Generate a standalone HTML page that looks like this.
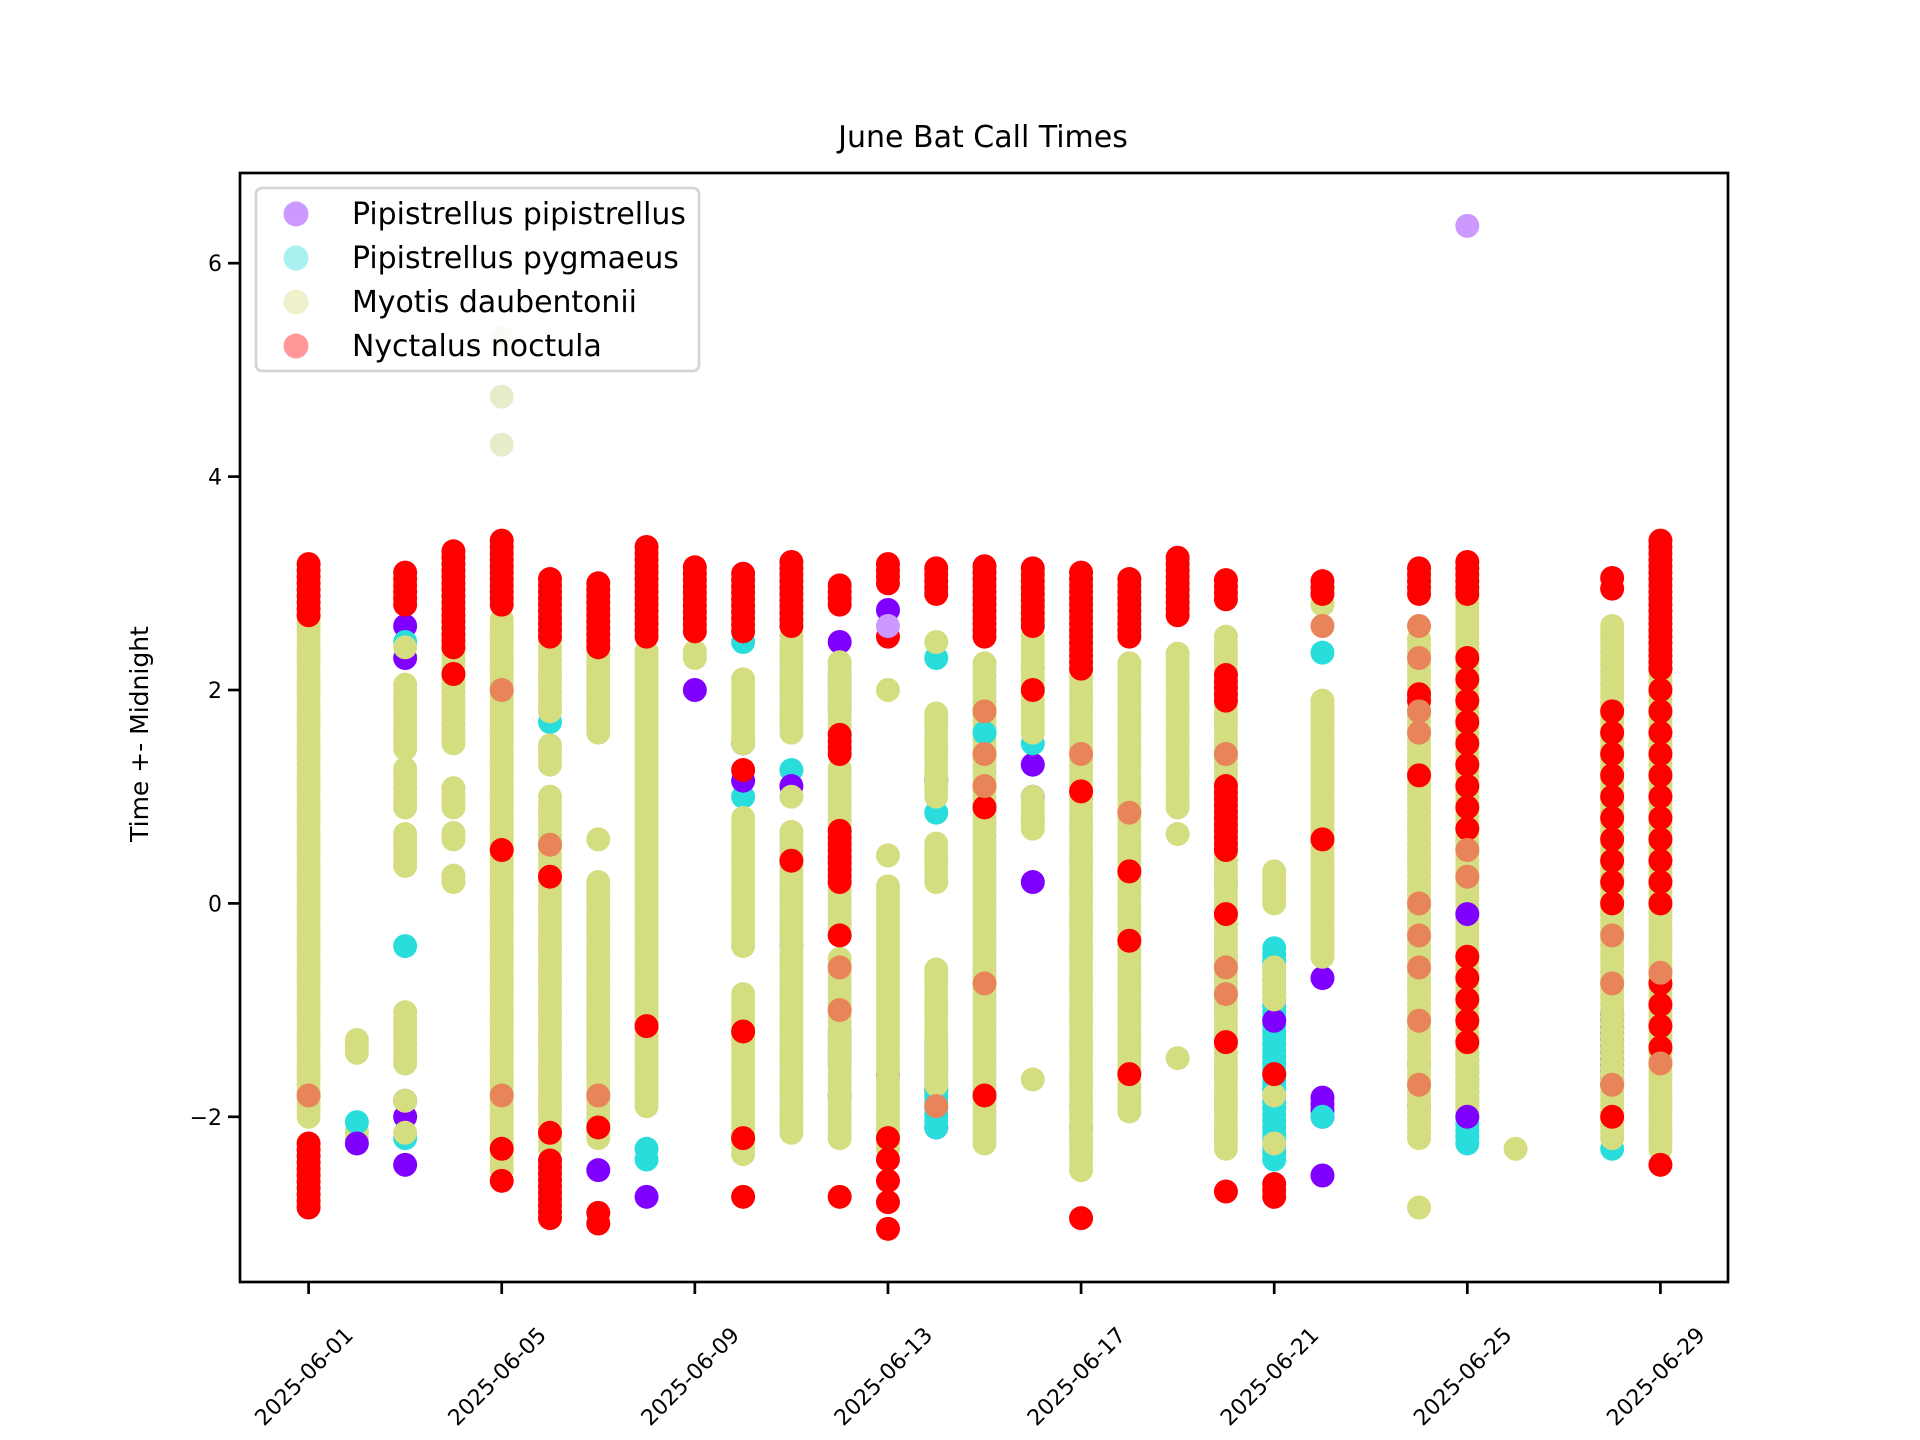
<!DOCTYPE html>
<html><head><meta charset="utf-8">
<style>
html,body{margin:0;padding:0;background:#fff;}
svg{display:block;font-family:"DejaVu Sans","Liberation Sans",sans-serif;}
</style></head>
<body>
<svg id="s" width="1920" height="1440" viewBox="0 0 1920 1440" xmlns="http://www.w3.org/2000/svg">
<rect width="1920" height="1440" fill="#fff"/>
<g id="pts"></g>
<rect x="240" y="173" width="1488" height="1109" fill="none" stroke="#000" stroke-width="2.7"/>
<g id="ax" stroke="#000" stroke-width="2.7"></g>
<g id="lab" font-size="22" fill="#000"></g>
<text x="983" y="147" font-size="30" text-anchor="middle">June Bat Call Times</text>
<text transform="translate(148,734) rotate(-90)" font-size="25" text-anchor="middle">Time +- Midnight</text>
<rect x="256" y="188" width="443" height="183" rx="6" fill="#fff" fill-opacity="0.8" stroke="#d5d5d5" stroke-width="2.7"/>
<circle cx="296" cy="214" r="12.5" fill="#8000ff" fill-opacity="0.4"/>
<circle cx="296" cy="258" r="12.5" fill="#2adddd" fill-opacity="0.4"/>
<circle cx="296" cy="302" r="12.5" fill="#d4dd80" fill-opacity="0.4"/>
<circle cx="296" cy="346" r="12.5" fill="#ff0000" fill-opacity="0.4"/>
<g font-size="29.9" fill="#000">
<text x="352" y="224">Pipistrellus pipistrellus</text>
<text x="352" y="268">Pipistrellus pygmaeus</text>
<text x="352" y="312">Myotis daubentonii</text>
<text x="352" y="356">Nyctalus noctula</text>
</g>
</svg>
<script>
const NS="http://www.w3.org/2000/svg";
const X=d=>308.6+(d-1)*48.28, Y=v=>903.4-v*106.7;
const g=document.getElementById('pts');
const C={p:"#8000ff",c:"#2adddd",m:"#d4dd80",r:"#ff0000",o:"#e8845a",l:"#e9eccb",q:"#cc99ff",s:"#ff0000"};
function dot(d,v,col){const c=document.createElementNS(NS,'circle');c.setAttribute('cx',X(d));c.setAttribute('cy',Y(v));c.setAttribute('r',12);c.setAttribute('fill',C[col]);g.appendChild(c);}
function rng(d,a,b,col){const st=col==='s'?0.2:0.06;for(let v=a;v<=b+1e-6;v+=st)dot(d,v,col);}
const data=[
[1,'m',[[-2.0,2.7]]],[1,'r',[[2.7,3.2],[-2.85,-2.2]]],[1,'o',[-1.8]],
[2,'m',[[-1.4,-1.25],[-2.2,-2.1]]],[2,'c',[-2.05]],[2,'p',[-2.25]],
[3,'p',[2.6,2.3,-1.85,-2.0,-2.45]],[3,'c',[-0.4,2.45,-2.2]],[3,'m',[[0.35,0.7],[0.9,1.3],[1.45,2.05],2.4,[-1.5,-1.0],-1.85,-2.15]],[3,'r',[[2.8,3.1]]],
[4,'m',[[0.2,0.3],[0.6,0.7],[0.9,1.1],[1.5,2.5]]],[4,'r',[[2.4,3.3],2.15]],
[5,'l',[4.3,4.75,5.3]],[5,'m',[[-2.5,2.7]]],[5,'r',[[2.8,3.45],0.5,-2.3,-2.6]],[5,'o',[2.0,-1.8]],
[6,'c',[1.7]],[6,'m',[[-2.3,1.0],[1.3,1.5],[1.8,2.5]]],[6,'r',[[2.5,3.05],0.25,-2.15,[-2.95,-2.4]]],[6,'o',[0.55]],
[7,'p',[-2.5]],[7,'m',[[1.6,2.4],0.6,[-2.2,0.2]]],[7,'r',[[2.4,3.05],-2.1,-2.9,-3.0]],[7,'o',[-1.8]],
[8,'p',[-2.75]],[8,'c',[-2.3,-2.4]],[8,'m',[[-1.9,2.4]]],[8,'r',[[2.5,3.35],-1.15]],
[9,'p',[2.0]],[9,'m',[[2.3,2.4]]],[9,'r',[[2.55,3.2]]],
[10,'c',[2.45,1.0]],[10,'p',[1.5,1.15]],[10,'m',[[-2.35,-0.8],[-0.4,0.8],[1.5,2.1]]],[10,'r',[[2.55,3.1],1.25,-1.2,-2.2,-2.75]],
[11,'c',[1.25,-0.4]],[11,'p',[1.1]],[11,'m',[[-2.15,0.7],1.0,[1.6,2.5]]],[11,'r',[[2.6,3.2],0.4]],
[12,'p',[2.45,-1.8]],[12,'c',[[-1.5,-1.2],[1.8,2.2]]],[12,'m',[[-2.2,-0.5],[-0.3,1.3],[1.6,2.3]]],[12,'r',[[2.8,3.0],[1.4,1.6],[0.2,0.7],-0.3,-2.75]],[12,'o',[-0.6,-1.0]],
[13,'p',[2.75,-1.6]],[13,'c',[-2.0]],[13,'m',[[-2.3,0.2],0.45,2.0]],[13,'r',[[3.0,3.2],2.5,-2.2,-2.4,-2.6,-2.8,-3.05]],[13,'q',[2.6]],
[14,'p',[1.15,-1.75,-2.1]],[14,'c',[2.3,0.85,[-2.1,-1.3]]],[14,'m',[[1.0,1.8],2.45,[0.2,0.6],[-1.7,-0.6]]],[14,'r',[[2.9,3.15]]],[14,'o',[-1.9]],
[15,'m',[[-2.25,2.3]]],[15,'c',[1.6]],[15,'r',[[2.5,3.2],0.9,-1.8]],[15,'o',[1.8,1.4,1.1,-0.75]],
[16,'p',[0.2,1.3,1.0]],[16,'c',[2.2,0.8,1.5]],[16,'m',[[0.7,1.0],[1.6,2.5],-1.65]],[16,'r',[[2.6,3.15],2.0]],
[17,'c',[-1.9,-2.1]],[17,'m',[[-2.5,2.2]]],[17,'r',[[2.2,3.15],1.05,-2.95]],[17,'o',[1.4]],
[18,'m',[[-1.95,2.3]]],[18,'r',[[2.5,3.05],0.3,-0.35,-1.6]],[18,'o',[0.85]],
[19,'m',[[0.65,0.7],[0.9,2.35],-1.45]],[19,'r',[[2.7,3.25]]],
[20,'c',[0.2,-0.5]],[20,'m',[[-2.3,2.5]]],[20,'r',[[2.85,3.05],[1.9,2.15],[0.5,1.1],-0.1,-1.3,-2.7]],[20,'o',[1.4,-0.6,-0.85]],
[21,'c',[[-2.4,-0.4]]],[21,'p',[-1.1]],[21,'m',[[0.0,0.3],[-0.9,-0.6],-1.8,-2.25]],[21,'r',[-1.6,[-2.75,-2.6]]],
[22,'p',[-0.7,[-2.0,-1.8],-2.55]],[22,'c',[2.35,-2.0]],[22,'m',[[-0.5,1.9],2.8]],[22,'r',[[2.9,3.05],0.6]],[22,'o',[2.6]],
[24,'p',[-1.9]],[24,'c',[-1.5]],[24,'m',[[-2.2,2.5],-2.85]],[24,'r',[[2.9,3.15],[1.9,2.0],1.2]],[24,'o',[2.6,2.3,1.6,1.8,0.0,-0.3,-0.6,-1.1,-1.7]],
[25,'q',[6.35]],[25,'c',[[-2.25,-1.4]]],[25,'m',[[-2.0,2.9]]],[25,'r',[[2.9,3.25]]],[25,'s',[[0.7,2.4],[-1.3,-0.4]]],[25,'o',[0.5,0.25]],[25,'p',[-0.1,-2.0]],
[26,'m',[-2.3]],
[28,'p',[[-1.7,-1.0]]],[28,'c',[-2.3]],[28,'m',[[-2.2,2.6]]],[28,'r',[2.95,3.05,-2.0]],[28,'s',[[0.0,1.9]]],[28,'o',[-0.3,-0.75,-1.7]],
[29,'m',[[-2.3,2.6]]],[29,'r',[[2.2,3.45],-2.45]],[29,'s',[[0.0,2.2],[-1.35,-0.6]]],[29,'o',[-1.5,-0.65]]
];
for(const [d,col,rs] of data)for(const r of rs){if(Array.isArray(r))rng(d,r[0],r[1],col);else dot(d,r,col);}
const ax=document.getElementById('ax'),lab=document.getElementById('lab');
function line(x1,y1,x2,y2){const l=document.createElementNS(NS,'line');l.setAttribute('x1',x1);l.setAttribute('y1',y1);l.setAttribute('x2',x2);l.setAttribute('y2',y2);ax.appendChild(l);}
function txt(s,x,y,tr,anch){const t=document.createElementNS(NS,'text');t.textContent=s;t.setAttribute('x',x);t.setAttribute('y',y);t.setAttribute('text-anchor',anch||'middle');if(tr)t.setAttribute('transform',tr);lab.appendChild(t);}
for(const v of [-2,0,2,4,6]){const y=Y(v);line(228,y,240,y);txt((v<0?'\u2212':'')+Math.abs(v),222,y+8,null,'end');}
for(let d=1;d<=29;d+=4){const x=X(d);line(x,1282,x,1294);const s='2025-06-'+String(d).padStart(2,'0');txt(s,0,8,`translate(${x-5},1376) rotate(-45)`);}
</script>
</body></html>
